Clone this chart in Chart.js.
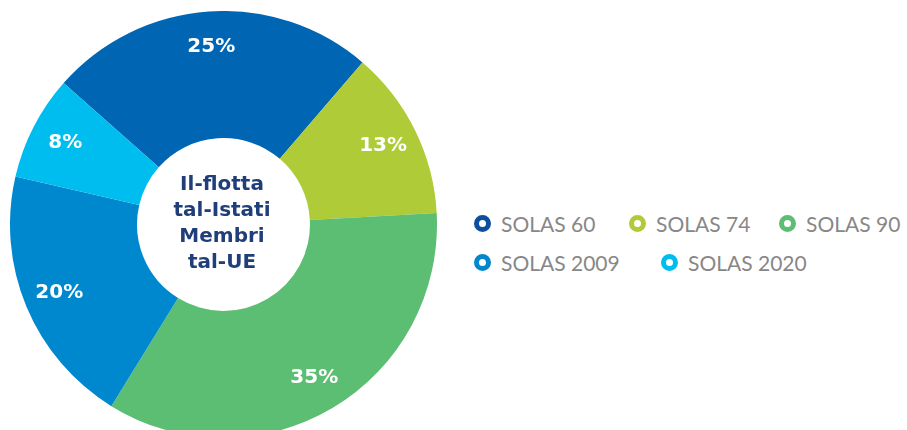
<!DOCTYPE html>
<html>
<head>
<meta charset="utf-8">
<script src="https://cdn.jsdelivr.net/npm/chart.js@4.4.1/dist/chart.umd.min.js"></script>
<style>
  html, body { margin: 0; padding: 0; background: #fff; width: 907px; height: 430px; overflow: hidden; }
  #wrap { position: absolute; left: 10px; top: 11px; width: 427px; height: 427px; }
  #centerText {
    position: absolute; left: 132px; top: 170px; width: 180px; text-align: center;
    font-family: "DejaVu Sans", sans-serif; font-weight: bold; font-size: 20px; line-height: 26px;
    color: #1f3e7a;
  }
  #legend { position: absolute; left: 474px; top: 211px; font-family: Lato, sans-serif; font-size: 21px; color: #878787; }
  .item { position: absolute; white-space: nowrap; display: flex; align-items: center; }
  .dot { width: 7px; height: 7px; border-radius: 50%; border: 5px solid; margin-right: 10px; background: #fff; }
</style>
</head>
<body>
<div id="wrap"><canvas id="chart"></canvas></div>
<div id="centerText">Il-flotta<br>tal-Istati<br>Membri<br>tal-UE</div>
<div id="legend"></div>
<script>
// ---- data ----
const labels = ["SOLAS 60", "SOLAS 74", "SOLAS 90", "SOLAS 2009", "SOLAS 2020"];
const shares = [25, 13, 35, 20, 8];
const colors = ["#0066b3", "#afcb37", "#5cbe73", "#0088cf", "#00bdf0"];
const legendColors = ["#0d4f9e", "#afcb37", "#5cbe73", "#0088cf", "#00bdf0"];
// legend layout (row, left offset)
const legendPos = [[0, 0], [0, 155], [0, 305], [1, 0], [1, 187]];

// percent labels drawn inside each slice
const pctLabels = {
  id: "pctLabels",
  afterDatasetsDraw(chart) {
    const ctx = chart.ctx;
    const meta = chart.getDatasetMeta(0);
    ctx.save();
    ctx.fillStyle = "#fff";
    ctx.font = "bold 20px 'DejaVu Sans'";
    ctx.textAlign = "center";
    ctx.textBaseline = "middle";
    meta.data.forEach((arc, i) => {
      const p = arc.getProps(["x", "y", "startAngle", "endAngle", "innerRadius", "outerRadius"], true);
      const mid = (p.startAngle + p.endAngle) / 2;
      const r = p.innerRadius + (p.outerRadius - p.innerRadius) * 0.72;
      ctx.fillText(shares[i] + "%", p.x + Math.cos(mid) * r, p.y + Math.sin(mid) * r);
    });
    ctx.restore();
  }
};

new Chart(document.getElementById("chart"), {
  type: "doughnut",
  data: {
    labels: labels,
    datasets: [{ data: shares, backgroundColor: colors, borderWidth: 0 }]
  },
  options: {
    responsive: true,
    maintainAspectRatio: false,
    animation: false,
    cutout: "40.5%",
    rotation: -48.5,
    layout: { padding: 0 },
    plugins: { legend: { display: false }, tooltip: { enabled: false } }
  },
  plugins: [pctLabels]
});

// html legend
const legendEl = document.getElementById("legend");
labels.forEach((lab, i) => {
  const it = document.createElement("div");
  it.className = "item";
  it.style.left = legendPos[i][1] + "px";
  it.style.top = (legendPos[i][0] * 39) + "px";
  it.innerHTML = `<span class="dot" style="border-color:${legendColors[i]}"></span>${lab}`;
  legendEl.appendChild(it);
});
</script>
</body>
</html>
